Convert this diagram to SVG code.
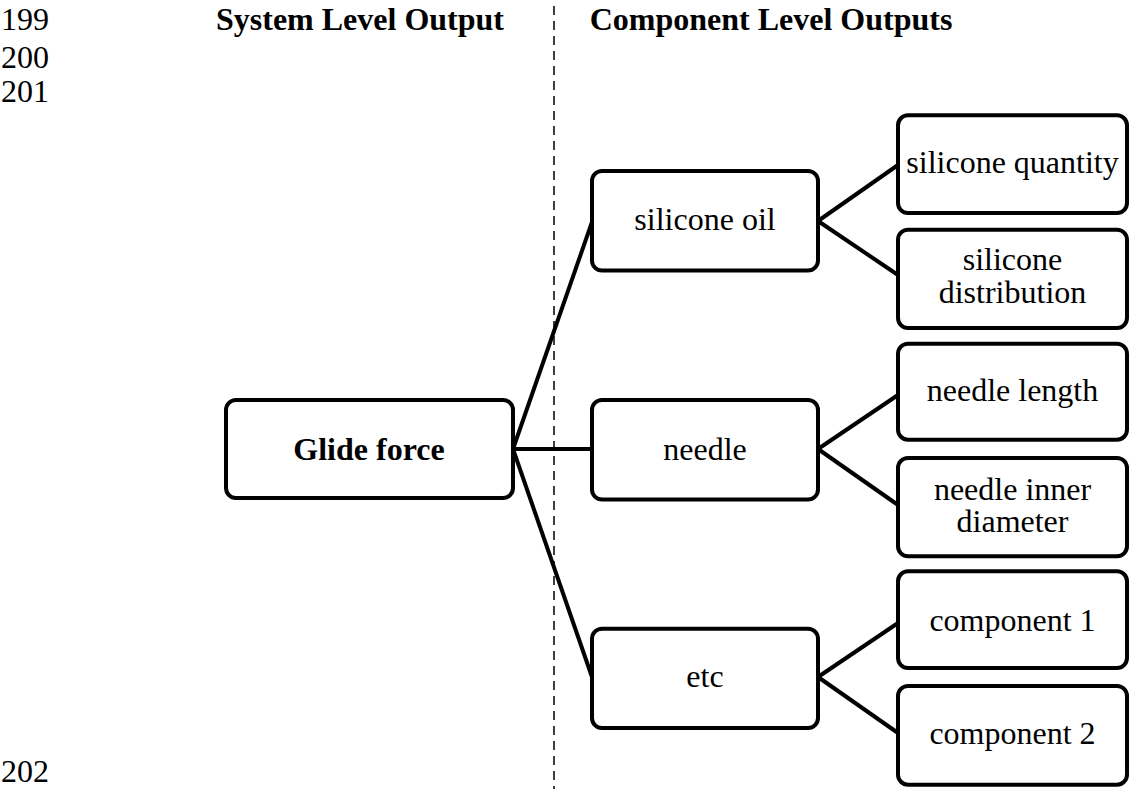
<svg xmlns="http://www.w3.org/2000/svg" width="1130" height="789" viewBox="0 0 1130 789">
<style>
.box{fill:#fff;stroke:#000;stroke-width:4}
.t{font-family:"Liberation Serif","Times New Roman",serif;font-size:32px;fill:#000;text-anchor:middle}
.b{font-weight:bold}
.ln{font-family:"Liberation Serif","Times New Roman",serif;font-size:32px;fill:#000}
.c{stroke:#000;stroke-width:4;fill:none}
.dash{stroke:#000;stroke-width:1.5;stroke-dasharray:9 6;fill:none}
</style>
<rect width="1130" height="789" fill="#fff"/>
<g id="line-numbers">
<text class="ln" x="1" y="29.5">199</text>
<text class="ln" x="1" y="68">200</text>
<text class="ln" x="1" y="102">201</text>
<text class="ln" x="1" y="782">202</text>
</g>
<g id="headers">
<text class="t b" x="360" y="29.5">System Level Output</text>
<text class="t b" x="771" y="29.5">Component Level Outputs</text>
</g>
<line id="divider" class="dash" x1="554" y1="6" x2="554" y2="789"/>
<g id="connectors">
<line class="c" x1="513" y1="449" x2="592" y2="222"/>
<line class="c" x1="513" y1="449" x2="592" y2="449"/>
<line class="c" x1="513" y1="449" x2="592" y2="677"/>
<line class="c" x1="818" y1="221" x2="898" y2="165"/>
<line class="c" x1="818" y1="221" x2="898" y2="275"/>
<line class="c" x1="818" y1="449" x2="898" y2="395"/>
<line class="c" x1="818" y1="449" x2="898" y2="505"/>
<line class="c" x1="818" y1="677" x2="898" y2="623"/>
<line class="c" x1="818" y1="677" x2="898" y2="733"/>
</g>
<g id="glide-force">
<rect class="box" x="226" y="400" width="287" height="98" rx="10"/>
<text class="t b" x="369" y="460">Glide force</text>
</g>
<g id="silicone-oil">
<rect class="box" x="592" y="171" width="226" height="99.5" rx="10"/>
<text class="t" x="705" y="230">silicone oil</text>
</g>
<g id="needle">
<rect class="box" x="592" y="400" width="226" height="99.5" rx="10"/>
<text class="t" x="705" y="460">needle</text>
</g>
<g id="etc">
<rect class="box" x="592" y="628.7" width="226" height="99.3" rx="10"/>
<text class="t" x="705" y="686.7">etc</text>
</g>
<g id="silicone-quantity">
<rect class="box" x="898" y="115.3" width="229" height="97.7" rx="10"/>
<text class="t" x="1012.5" y="173.3">silicone quantity</text>
</g>
<g id="silicone-distribution">
<rect class="box" x="898" y="229.7" width="229" height="98.3" rx="10"/>
<text class="t" x="1012.5" y="270"><tspan x="1012.5" y="270">silicone</tspan><tspan x="1012.5" y="302.7">distribution</tspan></text>
</g>
<g id="needle-length">
<rect class="box" x="898" y="343.7" width="229" height="96" rx="10"/>
<text class="t" x="1012.5" y="401">needle length</text>
</g>
<g id="needle-inner-diameter">
<rect class="box" x="898" y="458" width="229" height="98.3" rx="10"/>
<text class="t" x="1012.5" y="500"><tspan x="1012.5" y="500">needle inner</tspan><tspan x="1012.5" y="531.7">diameter</tspan></text>
</g>
<g id="component-1">
<rect class="box" x="898" y="571.3" width="229" height="96.7" rx="10"/>
<text class="t" x="1012.5" y="631">component 1</text>
</g>
<g id="component-2">
<rect class="box" x="898" y="686" width="229" height="98.7" rx="10"/>
<text class="t" x="1012.5" y="744.3">component 2</text>
</g>
</svg>
